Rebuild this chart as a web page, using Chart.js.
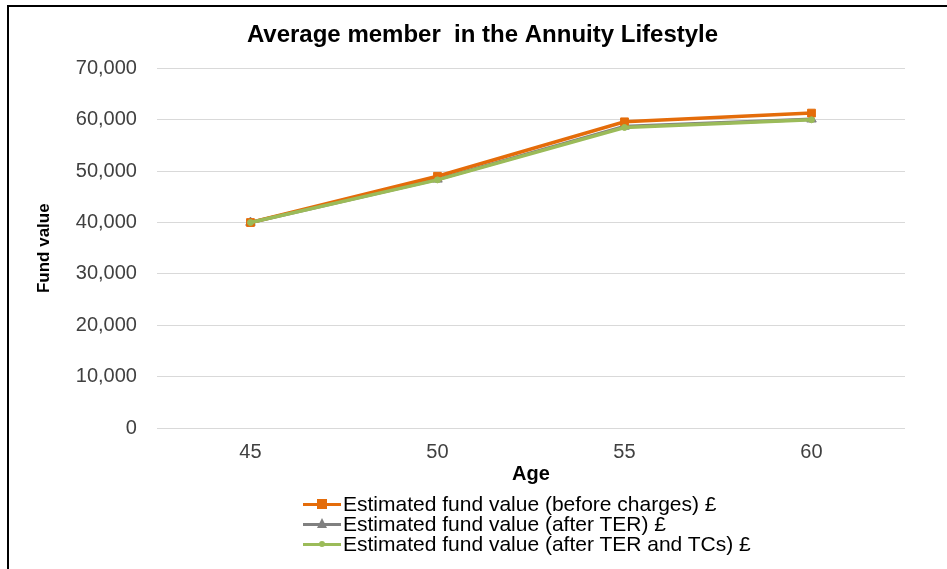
<!DOCTYPE html>
<html>
<head>
<meta charset="utf-8">
<script src="https://cdn.jsdelivr.net/npm/chart.js@4"></script>
<style>
  html, body { margin: 0; padding: 0; background: #fff; }
  #wrap { position: relative; width: 947px; height: 569px; overflow: hidden; }
  #frame { position: absolute; left: 7px; top: 5px; width: 960px; height: 600px; border-left: 2px solid #000; border-top: 2px solid #000; box-sizing: border-box; pointer-events: none; }
  canvas { position: absolute; left: 0; top: 0; }
  #legend { position: absolute; left: 303px; top: 494px; font-family: "Liberation Sans", Arial, sans-serif; font-size: 21px; color: #000; }
  .item { height: 20px; line-height: 20px; display: flex; align-items: center; white-space: nowrap; }
  .sym { position: relative; width: 38px; height: 20px; margin-right: 2px; }
  .sym .ln { position: absolute; left: 0; top: 9px; width: 38px; height: 3px; }
  .sym .mk { position: absolute; }
</style>
</head>
<body>
<div id="wrap">
  <canvas id="c" width="947" height="569"></canvas>
  <div id="frame"></div>
  <div id="legend"></div>
</div>
<script>
const ages = ["45", "50", "55", "60"];
const beforeCharges = [40000, 49000, 59600, 61300];
const afterTER = [40000, 48400, 58700, 60100];
const afterTERandTCs = [40000, 48300, 58500, 60000];
const seriesNames = [
  "Estimated fund value (before charges) £",
  "Estimated fund value (after TER) £",
  "Estimated fund value (after TER and TCs) £"
];
const colors = ["#E46C0A", "#808080", "#9BBB59"];
const styles = ["rect", "triangle", "circle"];
const radii = [5.5, 5.5, 3];

const font = "'Liberation Sans', Arial, sans-serif";
const datasets = [beforeCharges, afterTER, afterTERandTCs].map((d, i) => ({
  label: seriesNames[i],
  data: d,
  borderColor: colors[i],
  backgroundColor: colors[i],
  borderWidth: 3.5,
  pointStyle: styles[i],
  pointRadius: radii[i],
  pointBorderWidth: 1,
  pointBorderColor: colors[i],
  pointBackgroundColor: colors[i],
  tension: 0,
  order: [1, 2, 0][i]
}));

new Chart(document.getElementById("c"), {
  type: "line",
  data: { labels: ages, datasets },
  options: {
    responsive: false,
    animation: false,
    layout: { padding: { left: 60, right: 42, top: 10, bottom: 83 } },
    plugins: {
      legend: { display: false },
      tooltip: { enabled: false },
      title: {
        display: true,
        text: "Average member  in the Annuity Lifestyle",
        color: "#000",
        font: { family: font, size: 24, weight: "bold" },
        padding: { top: 11, bottom: 18.6 }
      }
    },
    scales: {
      x: {
        offset: true,
        grid: { display: false, drawTicks: false },
        border: { display: false },
        ticks: { color: "#404040", font: { family: font, size: 20 }, padding: 12 },
        title: { display: true, text: "Age", color: "#000", font: { family: font, size: 20, weight: "bold" }, padding: { top: -14, bottom: 0 } }
      },
      y: {
        min: 0, max: 70000,
        ticks: {
          stepSize: 10000,
          color: "#404040",
          font: { family: font, size: 20 },
          padding: 20,
          callback: v => v.toLocaleString("en-US")
        },
        grid: { color: "#D9D9D9", lineWidth: 1, drawTicks: false },
        border: { display: false },
        title: { display: true, text: "Fund value", color: "#000", font: { family: font, size: 17, weight: "bold" }, padding: { top: -26, bottom: 1.4 } }
      }
    }
  }
});

// HTML legend built from the series definitions
const leg = document.getElementById("legend");
seriesNames.forEach((name, i) => {
  const it = document.createElement("div"); it.className = "item";
  const sym = document.createElement("div"); sym.className = "sym";
  const ln = document.createElement("div"); ln.className = "ln"; ln.style.background = colors[i];
  sym.appendChild(ln);
  const mk = document.createElement("div"); mk.className = "mk";
  if (styles[i] === "rect") {
    Object.assign(mk.style, { left: "14px", top: "5px", width: "10px", height: "10px", background: colors[i] });
  } else if (styles[i] === "triangle") {
    Object.assign(mk.style, { left: "14px", top: "4px", width: "0", height: "0", borderLeft: "5px solid transparent", borderRight: "5px solid transparent", borderBottom: "10px solid " + colors[i] });
  } else {
    Object.assign(mk.style, { left: "16px", top: "7px", width: "6px", height: "6px", borderRadius: "50%", background: colors[i] });
  }
  sym.appendChild(mk);
  const tx = document.createElement("span"); tx.textContent = name;
  it.appendChild(sym); it.appendChild(tx);
  leg.appendChild(it);
});
</script>
</body>
</html>
